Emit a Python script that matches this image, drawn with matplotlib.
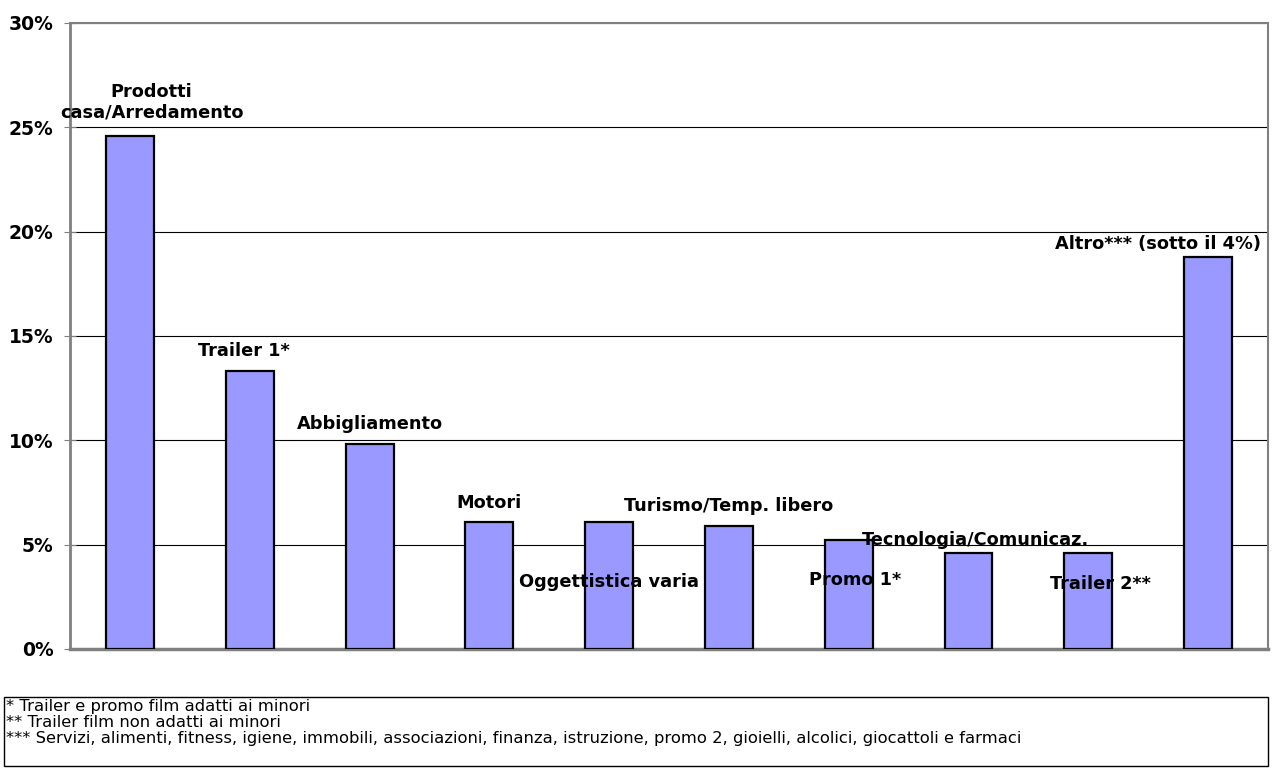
import matplotlib.pyplot as plt
from matplotlib.patches import Rectangle

# category labels, values (%) and label positions
categories = ["Prodotti\ncasa/Arredamento", "Trailer 1*", "Abbigliamento", "Motori",
              "Oggettistica varia", "Turismo/Temp. libero", "Promo 1*",
              "Tecnologia/Comunicaz.", "Trailer 2**", "Altro*** (sotto il 4%)"]
values = [24.6, 13.3, 9.8, 6.1, 6.1, 5.9, 5.2, 4.6, 4.6, 18.8]
label_y = [26.2, 14.3, 10.8, 7.0, 3.2, 6.85, 3.3, 5.2, 3.1, 19.4]
label_dx = [0.18, -0.05, 0.0, 0.0, 0.0, 0.0, 0.05, 0.06, 0.1, -0.42]
yticks = [0, 5, 10, 15, 20, 25, 30]
notes = ["* Trailer e promo film adatti ai minori",
         "** Trailer film non adatti ai minori",
         "*** Servizi, alimenti, fitness, igiene, immobili, associazioni, finanza, istruzione, "
         "promo 2, gioielli, alcolici, giocattoli e farmaci"]

plt.rcParams['font.family'] = ['DejaVu Sans']

fig = plt.figure(figsize=(12.74, 7.76), dpi=100)
ax = fig.add_axes([0.055, 0.1637, 0.9403, 0.8067])

x = range(len(values))
ax.bar(x, values, width=0.4, color='#9999FF', edgecolor='black', linewidth=1.6, zorder=3)

for i, (lab, ly, dx) in enumerate(zip(categories, label_y, label_dx)):
    ax.text(i + dx, ly, lab, ha='center', va='center', fontsize=12.8,
            fontweight='bold', multialignment='center', zorder=4)

ax.set_xlim(-0.5, len(values) - 0.5)
ax.set_ylim(0, 30)
ax.set_yticks(yticks)
ax.set_yticklabels([f"{t}%" for t in yticks], fontsize=13.5, fontweight='bold')
ax.set_xticks([])
ax.tick_params(axis='y', direction='inout', length=8, color='#808080', pad=8)
ax.yaxis.grid(True, color='black', linewidth=0.8, zorder=1)
ax.set_axisbelow(True)
for s in ax.spines.values():
    s.set_color('#808080')
ax.spines['left'].set_linewidth(2)
ax.spines['bottom'].set_linewidth(2.5)
ax.spines['top'].set_linewidth(1.5)
ax.spines['right'].set_linewidth(1.5)

# footnote box
fig.patches.append(Rectangle((0.0035, 0.0129), 0.9917, 0.0889, transform=fig.transFigure,
                             fill=False, edgecolor='black', linewidth=1.0))
for k, note in enumerate(notes):
    fig.text(0.005, 1 - (706 + 16.5 * k) / 776, note, ha='left', va='center', fontsize=11.8)

fig.savefig("out.png", dpi=100)
